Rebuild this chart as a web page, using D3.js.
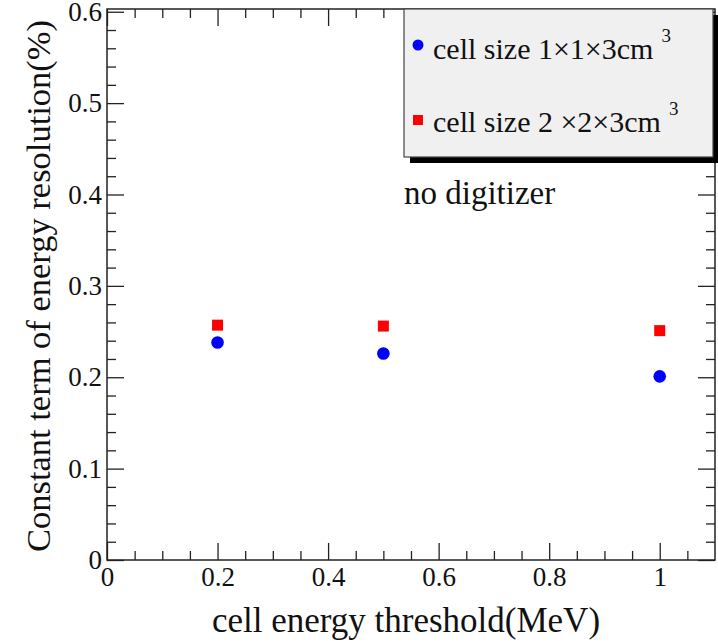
<!DOCTYPE html>
<html>
<head>
<meta charset="utf-8">
<script src="https://cdn.jsdelivr.net/npm/d3@7"></script>
<style>
  body { margin: 0; background: #fff; }
  text { font-family: "Liberation Serif", "DejaVu Serif", serif; fill: #111; }
</style>
</head>
<body>
<script>
// data
var thresholds = [0.2, 0.5, 1.0];            // cell energy threshold (MeV)
var small = [0.238, 0.226, 0.201];           // cell size 1x1x3 cm3
var large = [0.257, 0.256, 0.251];           // cell size 2x2x3 cm3
var xTicks = [0, 0.2, 0.4, 0.6, 0.8, 1];
var yTicks = [0, 0.1, 0.2, 0.3, 0.4, 0.5, 0.6];

var w = 718, h = 642;
var padL = 107, padR = 715, padT = 9, padB = 560;

var svg = d3.select('body')
  .append('svg')
  .attr('width', w)
  .attr('height', h);

// SCALES
var xScale = d3.scaleLinear().domain([0, 1.1]).range([padL, padR]);
var yScale = d3.scaleLinear().domain([0, 0.603]).range([padB, padT]);

var fmt = d => String(+d.toFixed(2));
var xMinor = d3.range(0, 1.1, 0.05).filter(v => Math.abs(v / 0.2 - Math.round(v / 0.2)) > 1e-6);
var yMinor = d3.range(0, 0.603, 0.02).filter(v => Math.abs(v / 0.1 - Math.round(v / 0.1)) > 1e-6);

function styleAxis(g) {
  g.select('.domain').remove();
  g.selectAll('line').attr('stroke', '#222').attr('stroke-width', 1.3);
}

// AXES (ticks point inward, like ROOT)
svg.append('g')
  .attr('transform', `translate(0,${padB})`)
  .call(d3.axisBottom(xScale).tickValues(xTicks).tickFormat(fmt).tickSizeInner(-17).tickSizeOuter(0).tickPadding(7))
  .call(styleAxis)
  .selectAll('text').style('font-size', '27px').style('font-family', '"Liberation Serif", serif');
svg.append('g')
  .attr('transform', `translate(0,${padB})`)
  .call(d3.axisBottom(xScale).tickValues(xMinor).tickFormat('').tickSizeInner(-9).tickSizeOuter(0))
  .call(styleAxis);
// top ticks
svg.append('g')
  .attr('transform', `translate(0,${padT})`)
  .call(d3.axisTop(xScale).tickValues(xTicks).tickFormat('').tickSizeInner(-17).tickSizeOuter(0))
  .call(styleAxis);
svg.append('g')
  .attr('transform', `translate(0,${padT})`)
  .call(d3.axisTop(xScale).tickValues(xMinor).tickFormat('').tickSizeInner(-9).tickSizeOuter(0))
  .call(styleAxis);

svg.append('g')
  .attr('transform', `translate(${padL},0)`)
  .call(d3.axisLeft(yScale).tickValues(yTicks).tickFormat(fmt).tickSizeInner(-17).tickSizeOuter(0).tickPadding(5))
  .call(styleAxis)
  .selectAll('text').style('font-size', '27px').style('font-family', '"Liberation Serif", serif');
svg.append('g')
  .attr('transform', `translate(${padL},0)`)
  .call(d3.axisLeft(yScale).tickValues(yMinor).tickFormat('').tickSizeInner(-9).tickSizeOuter(0))
  .call(styleAxis);
// right ticks
svg.append('g')
  .attr('transform', `translate(${padR},0)`)
  .call(d3.axisRight(yScale).tickValues(yTicks).tickFormat('').tickSizeInner(-17).tickSizeOuter(0))
  .call(styleAxis);
svg.append('g')
  .attr('transform', `translate(${padR},0)`)
  .call(d3.axisRight(yScale).tickValues(yMinor).tickFormat('').tickSizeInner(-9).tickSizeOuter(0))
  .call(styleAxis);

// frame
svg.append('rect')
  .attr('x', padL).attr('y', padT)
  .attr('width', padR - padL).attr('height', padB - padT)
  .attr('fill', 'none').attr('stroke', '#222').attr('stroke-width', 1.5);

// MARKERS
svg.selectAll('.sq')
  .data(thresholds)
  .enter()
  .append('rect')
    .attr('class', 'sq')
    .attr('x', d => xScale(d) - 5.5)
    .attr('y', (d, i) => yScale(large[i]) - 5.5)
    .attr('width', 11).attr('height', 11)
    .attr('fill', '#ff0000');

svg.selectAll('.dot')
  .data(thresholds)
  .enter()
  .append('circle')
    .attr('class', 'dot')
    .attr('cx', d => xScale(d))
    .attr('cy', (d, i) => yScale(small[i]))
    .attr('r', 6.3)
    .attr('fill', '#0000ff');

// LEGEND
svg.append('rect')
  .attr('x', 410).attr('y', 15).attr('width', 308).attr('height', 148)
  .attr('fill', '#000');
svg.append('rect')
  .attr('x', 404).attr('y', 9).attr('width', 309).attr('height', 148)
  .attr('fill', '#f0f0f0').attr('stroke', '#444').attr('stroke-width', 1.2);

svg.append('circle').attr('cx', 418).attr('cy', 45).attr('r', 5.5).attr('fill', '#0000ff');
svg.append('rect').attr('x', 413).attr('y', 115).attr('width', 10).attr('height', 10).attr('fill', '#ff0000');

var l1 = svg.append('text').attr('x', 433).attr('y', 59).style('font-size', '30px');
l1.append('tspan').text('cell size 1×1×3cm');
l1.append('tspan').attr('dx', 8).attr('dy', -17).style('font-size', '19px').text('3');

var l2 = svg.append('text').attr('x', 433).attr('y', 132).style('font-size', '30px');
l2.append('tspan').text('cell size 2 ×2×3cm');
l2.append('tspan').attr('dx', 8).attr('dy', -17).style('font-size', '19px').text('3');

svg.append('text')
  .attr('x', 404).attr('y', 204)
  .style('font-size', '33px')
  .text('no digitizer');

// AXIS TITLES
svg.append('text')
  .attr('x', 406).attr('y', 632)
  .style('text-anchor', 'middle')
  .style('font-size', '35px')
  .text('cell energy threshold(MeV)');

svg.append('text')
  .style('text-anchor', 'middle')
  .attr('transform', 'translate(50,286)rotate(-90)')
  .style('font-size', '34.5px')
  .text('Constant term of energy resolution(%)');
</script>
</body>
</html>
